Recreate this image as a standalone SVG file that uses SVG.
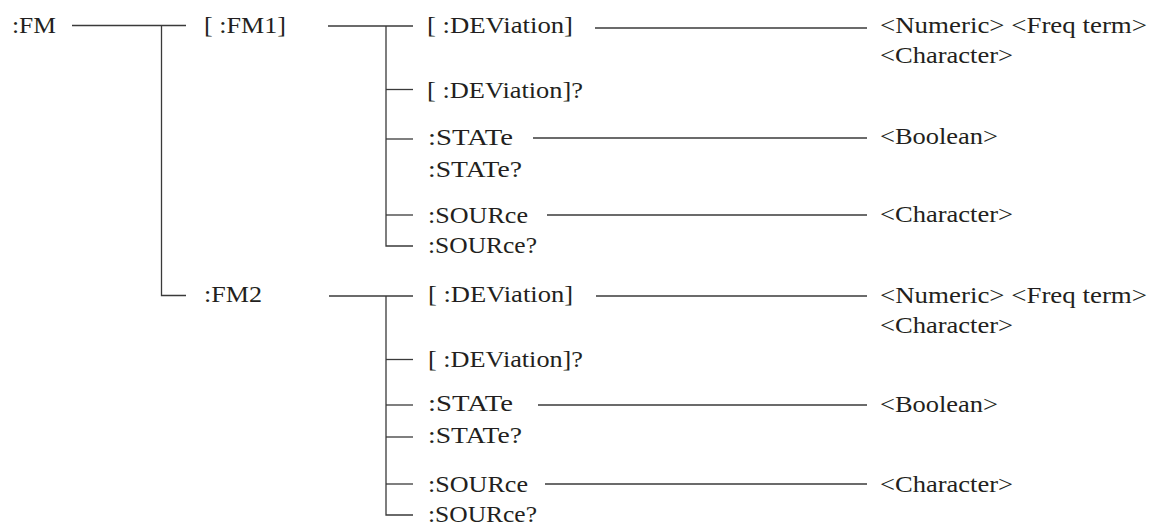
<svg xmlns="http://www.w3.org/2000/svg" width="1149" height="526" viewBox="0 0 1149 526">
<style>
text{font-family:'Liberation Serif','DejaVu Serif',serif;font-size:23px;fill:#231f20}
.c line,.c path{stroke:#3a3a3a;stroke-width:1.3;fill:none}
</style>
<rect width="1149" height="526" fill="#fff"/>
<g class="c" id="connectors">
<line x1="72" y1="25.5" x2="186" y2="25.5"/>
<path d="M161.5 25.5V295.5H186"/>
<line x1="328" y1="26" x2="413" y2="26"/>
<path d="M386 26V246H413"/>
<line x1="386" y1="89.5" x2="413" y2="89.5"/>
<line x1="386" y1="139" x2="413" y2="139"/>
<line x1="386" y1="215" x2="413" y2="215"/>
<line x1="595" y1="28" x2="867" y2="28"/>
<line x1="533" y1="138" x2="867" y2="138"/>
<line x1="547" y1="215" x2="867" y2="215"/>
<line x1="329" y1="296" x2="413" y2="296"/>
<path d="M386 296V515H413"/>
<line x1="386" y1="359.5" x2="413" y2="359.5"/>
<line x1="386" y1="405" x2="413" y2="405"/>
<line x1="386" y1="437" x2="413" y2="437"/>
<line x1="386" y1="484" x2="413" y2="484"/>
<line x1="596" y1="296" x2="867" y2="296"/>
<line x1="538" y1="405" x2="867" y2="405"/>
<line x1="545" y1="484" x2="867" y2="484"/>
</g>
<g font-family="Liberation Serif, DejaVu Serif, serif">
<g id="fm"><text x="12" y="33" textLength="44" lengthAdjust="spacingAndGlyphs">:FM</text></g>
<g id="fm1"><text x="204" y="33" textLength="82" lengthAdjust="spacingAndGlyphs">[ :FM1]</text></g>
<g id="fm1-dev"><text x="427" y="33" textLength="146" lengthAdjust="spacingAndGlyphs">[ :DEViation]</text></g>
<g id="fm1-dev-param"><text x="880" y="33" textLength="267" lengthAdjust="spacingAndGlyphs">&lt;Numeric&gt; &lt;Freq term&gt;</text><text x="880" y="63" textLength="133" lengthAdjust="spacingAndGlyphs">&lt;Character&gt;</text></g>
<g id="fm1-devq"><text x="427" y="98" textLength="156" lengthAdjust="spacingAndGlyphs">[ :DEViation]?</text></g>
<g id="fm1-state"><text x="428" y="145" textLength="85" lengthAdjust="spacingAndGlyphs">:STATe</text><text x="428" y="177" textLength="94" lengthAdjust="spacingAndGlyphs">:STATe?</text></g>
<g id="fm1-bool"><text x="880" y="144" textLength="118" lengthAdjust="spacingAndGlyphs">&lt;Boolean&gt;</text></g>
<g id="fm1-source"><text x="428" y="223" textLength="100" lengthAdjust="spacingAndGlyphs">:SOURce</text><text x="428" y="253" textLength="109" lengthAdjust="spacingAndGlyphs">:SOURce?</text></g>
<g id="fm1-char"><text x="880" y="222" textLength="133" lengthAdjust="spacingAndGlyphs">&lt;Character&gt;</text></g>
<g id="fm2"><text x="204" y="302" textLength="58" lengthAdjust="spacingAndGlyphs">:FM2</text></g>
<g id="fm2-dev"><text x="428" y="302" textLength="145" lengthAdjust="spacingAndGlyphs">[ :DEViation]</text></g>
<g id="fm2-dev-param"><text x="880" y="303" textLength="267" lengthAdjust="spacingAndGlyphs">&lt;Numeric&gt; &lt;Freq term&gt;</text><text x="880" y="333" textLength="133" lengthAdjust="spacingAndGlyphs">&lt;Character&gt;</text></g>
<g id="fm2-devq"><text x="428" y="367" textLength="155" lengthAdjust="spacingAndGlyphs">[ :DEViation]?</text></g>
<g id="fm2-state"><text x="428" y="411" textLength="85" lengthAdjust="spacingAndGlyphs">:STATe</text><text x="428" y="443" textLength="94" lengthAdjust="spacingAndGlyphs">:STATe?</text></g>
<g id="fm2-bool"><text x="880" y="412" textLength="118" lengthAdjust="spacingAndGlyphs">&lt;Boolean&gt;</text></g>
<g id="fm2-source"><text x="428" y="492" textLength="100" lengthAdjust="spacingAndGlyphs">:SOURce</text><text x="428" y="522" textLength="109" lengthAdjust="spacingAndGlyphs">:SOURce?</text></g>
<g id="fm2-char"><text x="880" y="492" textLength="133" lengthAdjust="spacingAndGlyphs">&lt;Character&gt;</text></g>
</g>
</svg>
